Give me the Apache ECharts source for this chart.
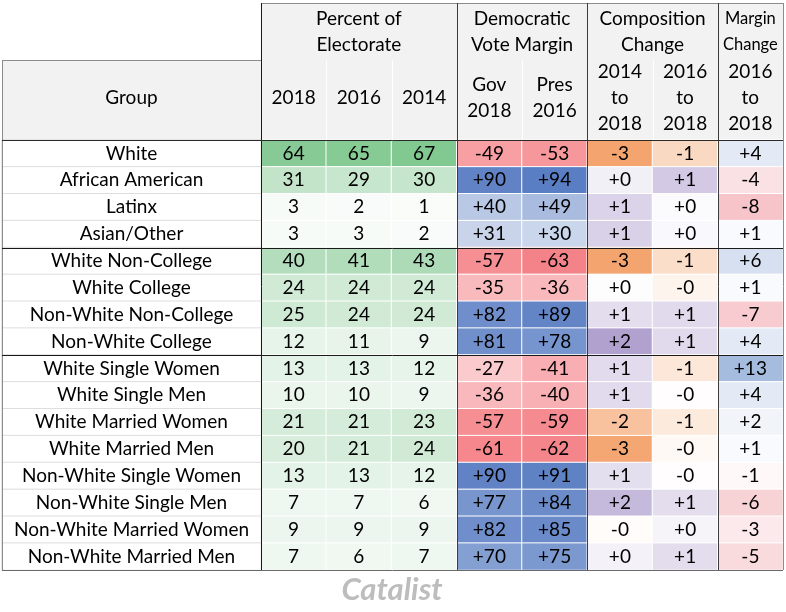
<!DOCTYPE html>
<html><head><meta charset="utf-8">
<script src="https://cdn.jsdelivr.net/npm/echarts@6/dist/echarts.min.js"></script>
<style>html,body{margin:0;padding:0;background:#fff}#c{width:786px;height:612px}</style>
</head><body><div id="c"></div>
<script>
// ---------- data ----------
const groups = ['White','African American','Latinx','Asian/Other',
  'White Non-College','White College','Non-White Non-College','Non-White College',
  'White Single Women','White Single Men','White Married Women','White Married Men',
  'Non-White Single Women','Non-White Single Men','Non-White Married Women','Non-White Married Men'];
const pct2018 = [64,31,3,3,40,24,25,12,13,10,21,20,13,7,9,7];
const pct2016 = [65,29,2,3,41,24,24,11,13,10,21,21,13,7,9,6];
const pct2014 = [67,30,1,2,43,24,24,9,12,9,23,24,12,6,9,7];
const govMargin2018 = [-49,90,40,31,-57,-35,82,81,-27,-36,-57,-61,90,77,82,70];
const presMargin2016 = [-53,94,49,30,-63,-36,89,78,-41,-40,-59,-62,91,84,85,75];
const comp14to18 = [-3.0,0.33,0.96,1.0,-3.0,0.05,0.75,2.05,0.78,0.78,-2.0,-2.9,0.7,1.5,-0.1,0.3];
const comp16to18 = [-1.25,1.17,0.1,0.15,-1.1,-0.35,0.8,0.8,-0.8,-0.05,-0.7,-0.2,-0.05,0.75,0.25,0.75];
const marginChange = [4,-4,-8,1,6,1,-7,4,13,4,2,1,-1,-6,-3,-5];

const subHeaders = ['2018','2016','2014','Gov\n2018','Pres\n2016','2014\nto\n2018','2016\nto\n2018','2016\nto\n2018'];
const groupHeaders = [
  {text:'Percent of\nElectorate', from:0, to:2, size:19},
  {text:'Democratic\nVote Margin', from:3, to:4, size:19},
  {text:'Composition\nChange', from:5, to:6, size:19},
  {text:'Margin\nChange', from:7, to:7, size:16.5}
];
const groupBreaks = [4, 8];

// ---------- layout ----------
const FONT = "Lato, 'Open Sans', sans-serif";
const FS = 19;
const L = 2, SPLIT = 261, R = 783, HT = 3, HM = 60, HB = 140, B = 570;
const NC = subHeaders.length;
const colW = (R - SPLIT) / NC;
const rowH = (B - HB) / groups.length;

function cells(cols) {
  const out = [];
  cols.forEach(c => c.arr.forEach((v, i) => out.push([c.col, i, v])));
  return out;
}
function signed(v) {
  const neg = v < 0 || Object.is(v, -0);
  return (neg ? '-' : '+') + Math.round(Math.abs(v));
}
const labelBase = {show:true, color:'#000', fontFamily:FONT, fontSize:FS};

const chart = echarts.init(document.getElementById('c'), null, {renderer:'canvas'});

const heatCommon = {
  type:'heatmap', xAxisIndex:0, yAxisIndex:0,
  itemStyle:{borderColor:'#ffffff', borderWidth:1},
  emphasis:{disabled:true}, silent:true
};
const axisLabelTop = {interval:0, color:'#000', fontFamily:FONT, fontSize:FS, lineHeight:26,
  verticalAlign:'middle', margin:(HB-HM)/2+2};

const option = {
  animation:false,
  backgroundColor:'#ffffff',
  grid:[
    {left:SPLIT, right:786-R, top:HB, bottom:612-B},
    {left:L, width:SPLIT-L, top:HB, bottom:612-B}
  ],
  xAxis:[
    {type:'category', gridIndex:0, position:'top', data:subHeaders,
      axisLine:{show:false}, axisTick:{show:false}, splitLine:{show:false},
      axisLabel:axisLabelTop, z:5},
    {type:'category', gridIndex:1, position:'top', data:['Group'],
      axisLine:{show:false}, axisTick:{show:false}, splitLine:{show:false},
      axisLabel:axisLabelTop, z:5}
  ],
  yAxis:[
    {type:'category', gridIndex:0, data:groups, inverse:true, show:false},
    {type:'category', gridIndex:1, data:groups, inverse:true, show:false}
  ],
  visualMap:[
    {type:'continuous', show:false, seriesIndex:0, dimension:2, min:0, max:67,
      inRange:{color:['#fcfdfc','#82c891']}},
    {type:'continuous', show:false, seriesIndex:1, dimension:2, min:-94, max:94,
      inRange:{color:['#ef464f','#ffffff','#5a7ec3']}},
    {type:'continuous', show:false, seriesIndex:2, dimension:2, min:-3, max:3,
      inRange:{color:['#f4a46e','#ffffff','#8d75b9']}},
    {type:'continuous', show:false, seriesIndex:3, dimension:2, min:-13, max:13,
      inRange:{color:['#f09fa7','#ffffff','#a6bcdf']}},
    {type:'continuous', show:false, seriesIndex:4, dimension:2, min:0, max:1,
      inRange:{color:['#ffffff','#ffffff']}}
  ],
  series:[
    Object.assign({}, heatCommon, {
      data:cells([{col:0,arr:pct2018},{col:1,arr:pct2016},{col:2,arr:pct2014}]),
      label:Object.assign({}, labelBase, {formatter:p => String(p.value[2])})
    }),
    Object.assign({}, heatCommon, {
      data:cells([{col:3,arr:govMargin2018},{col:4,arr:presMargin2016}]),
      label:Object.assign({}, labelBase, {formatter:p => signed(p.value[2])})
    }),
    Object.assign({}, heatCommon, {
      data:cells([{col:5,arr:comp14to18},{col:6,arr:comp16to18}]),
      label:Object.assign({}, labelBase, {formatter:p => signed(p.value[2])})
    }),
    Object.assign({}, heatCommon, {
      data:cells([{col:7,arr:marginChange}]),
      label:Object.assign({}, labelBase, {formatter:p => signed(p.value[2])})
    }),
    {
      type:'heatmap', xAxisIndex:1, yAxisIndex:1, silent:true, emphasis:{disabled:true},
      data:groups.map((g, i) => [0, i, 0]),
      itemStyle:{borderColor:'#dedede', borderWidth:1},
      label:Object.assign({}, labelBase, {formatter:p => groups[p.value[1]]})
    }
  ]
};

// ---------- decorations (header, rules) ----------
const els = [];
els.push({type:'rect', z:-10, shape:{x:L, y:HM, width:SPLIT-L, height:HB-HM}, style:{fill:'#f2f2f2'}});
els.push({type:'rect', z:-10, shape:{x:SPLIT, y:HT, width:R-SPLIT, height:HB-HT}, style:{fill:'#f2f2f2'}});
function line(x1,y1,x2,y2,color,w){
  const o = (w||1)%2 ? 0.5 : 0;
  const sx = x1===x2 ? o : 0, sy = y1===y2 ? o : 0;
  els.push({type:'line', z:50, silent:true,
    shape:{x1:x1+sx, y1:y1+sy, x2:x2+sx, y2:y2+sy},
    style:{stroke:color, lineWidth:w||1}});
}
[1,2,4,6].forEach(k => line(Math.round(SPLIT+k*colW), HM, Math.round(SPLIT+k*colW), HB, '#ffffff', 1));
line(SPLIT, HT, R, HT, '#8c8c8c');
line(R, HT, R, B, '#8c8c8c');
line(L, HM, SPLIT, HM, '#8c8c8c');
line(L, HM, L, B, '#8c8c8c');
line(L, B, R, B, '#6a6a6a');
[3,5,7].forEach(k => line(Math.round(SPLIT+k*colW), HT, Math.round(SPLIT+k*colW), B, '#3c3c3c'));
line(SPLIT, HT, SPLIT, B, '#1a1a1a');
line(L, HB, R, HB, '#2a2a2a');
groupBreaks.forEach(b => { const y = Math.round(HB + b*rowH); line(L, y, R, y, '#1a1a1a'); });
groupHeaders.forEach(h => {
  els.push({type:'text', z:20, x:SPLIT + (h.from + h.to + 1)/2*colW, y:(HT+HM)/2,
    style:{text:h.text, fill:'#000', font:h.size+'px '+FONT, lineHeight:26, align:'center', verticalAlign:'middle'}});
});
els.push({type:'text', z:20, x:392, y:590,
  style:{text:'Catalist', fill:'#bdbdbd', font:"italic bold 31px "+FONT, align:'center', verticalAlign:'middle'}});
option.graphic = {elements:els};

chart.setOption(option);
</script></body></html>
